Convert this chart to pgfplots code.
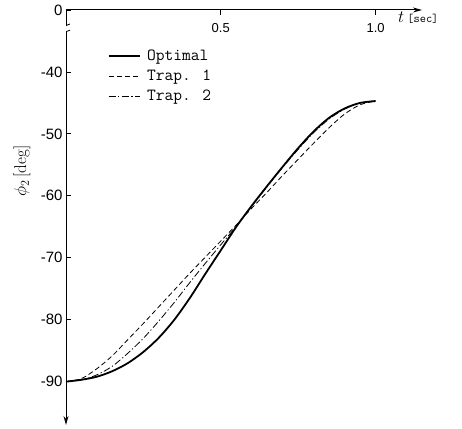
\documentclass[border=0pt]{standalone}
\usepackage{fontspec}
\usepackage{pgfplots}
\pgfplotsset{compat=1.18}
\usetikzlibrary{arrows.meta}
\newfontfamily\tickfont{Liberation Sans}
\begin{document}
\begin{tikzpicture}
\begin{axis}[
  scale only axis,
  width=356pt, height=415pt,
  xmin=0, xmax=1.15, ymin=-97, ymax=-30,
  axis x line=top, axis y line=left,
  x axis line style={line width=1pt, -{Stealth[length=9pt,width=5pt]}},
  y axis line style={line width=1pt, {Stealth[length=9pt,width=5pt]}-},
  tick align=inside,
  major tick length=5pt,
  tick style={line width=0.8pt, black},
  xtick={0.5,1.0}, xticklabels={0.5,1.0},
  ytick={-30,-40,-50,-60,-70,-80,-90},
  yticklabels={0,-40,-50,-60,-70,-80,-90},
  xticklabel style={font=\fontsize{13}{13}\selectfont\tickfont, anchor=north, yshift=-10pt},
  yticklabel style={font=\fontsize{15}{15}\selectfont\tickfont},
  xlabel={$t$\,{\fontsize{12}{12}\selectfont\ttfamily[sec]}},
  xlabel style={font=\fontsize{19}{19}\selectfont, at={(rel axis cs:0.9326,1)}, anchor=north west, inner sep=0pt, yshift=-2pt},
  ylabel={$\phi_2$\,[deg]},
  ylabel style={font=\fontsize{17}{17}\selectfont, at={(rel axis cs:-0.1236,0.612)}, anchor=center},
  legend style={at={(rel axis cs:0.1166,0.908)}, anchor=north west, draw=none, fill=none,
    font=\fontsize{17}{17}\selectfont\ttfamily, row sep=5pt, inner sep=0pt,
    nodes={inner sep=1.5pt}},
  legend cell align=left,
  legend image code/.code={\draw[#1] (0pt,0pt) -- (31pt,0pt); \path (36pt,0pt);},
]
\addplot[black, line width=1.8pt, smooth] coordinates {
(0,-90.0) (0.05,-89.7) (0.1,-89.2) (0.15,-88.3) (0.2,-87.0) (0.25,-85.2)
(0.3,-82.9) (0.35,-80.0) (0.4,-76.5) (0.45,-72.6) (0.5,-68.8) (0.55,-65.0)
(0.6,-61.6) (0.65,-58.4) (0.7,-55.3) (0.75,-52.3) (0.8,-49.6) (0.85,-47.4)
(0.9,-45.9) (0.95,-45.0) (1.0,-44.7)};
\addlegendentry{Optimal}
\addplot[black, line width=0.8pt, dash pattern=on 5pt off 3pt, smooth] coordinates {
(0,-90.0) (0.05,-89.5) (0.1,-87.9) (0.15,-85.8) (0.2,-83.2) (0.25,-80.6)
(0.3,-77.9) (0.35,-75.2) (0.4,-72.5) (0.45,-69.9) (0.5,-67.3) (0.55,-64.7)
(0.6,-62.0) (0.65,-59.4) (0.7,-56.7) (0.75,-54.1) (0.8,-51.5) (0.85,-49.0)
(0.9,-46.8) (0.95,-45.3) (1.0,-44.7)};
\addlegendentry{Trap. 1}
\addplot[black, line width=0.8pt, dash pattern=on 7pt off 2.5pt on 1.2pt off 2.5pt, smooth] coordinates {
(0,-90.0) (0.05,-89.7) (0.1,-88.9) (0.15,-87.5) (0.2,-85.4) (0.25,-83.0)
(0.3,-80.2) (0.35,-77.2) (0.4,-74.0) (0.45,-70.9) (0.5,-67.9) (0.55,-64.9)
(0.6,-61.7) (0.65,-58.5) (0.7,-55.4) (0.75,-52.5) (0.8,-49.8) (0.85,-47.6)
(0.9,-46.0) (0.95,-45.0) (1.0,-44.7)};
\addlegendentry{Trap. 2}
\draw[white, line width=4pt] (axis cs:0,-32.6) -- (axis cs:0,-33.4);
\draw[line width=0.8pt] ([shift={(-4pt,-1.5pt)}]axis cs:0,-32.5) -- ([shift={(4pt,1.5pt)}]axis cs:0,-32.5);
\draw[line width=0.8pt] ([shift={(-4pt,-1.5pt)}]axis cs:0,-33.5) -- ([shift={(4pt,1.5pt)}]axis cs:0,-33.5);
\coordinate (ll) at (rel axis cs:0,0);
\coordinate (ur) at (rel axis cs:1,1);
\end{axis}
\pgfresetboundingbox
\path ([shift={(-66pt,-3pt)}]ll) rectangle ([shift={(40pt,10pt)}]ur);
\end{tikzpicture}
\end{document}
